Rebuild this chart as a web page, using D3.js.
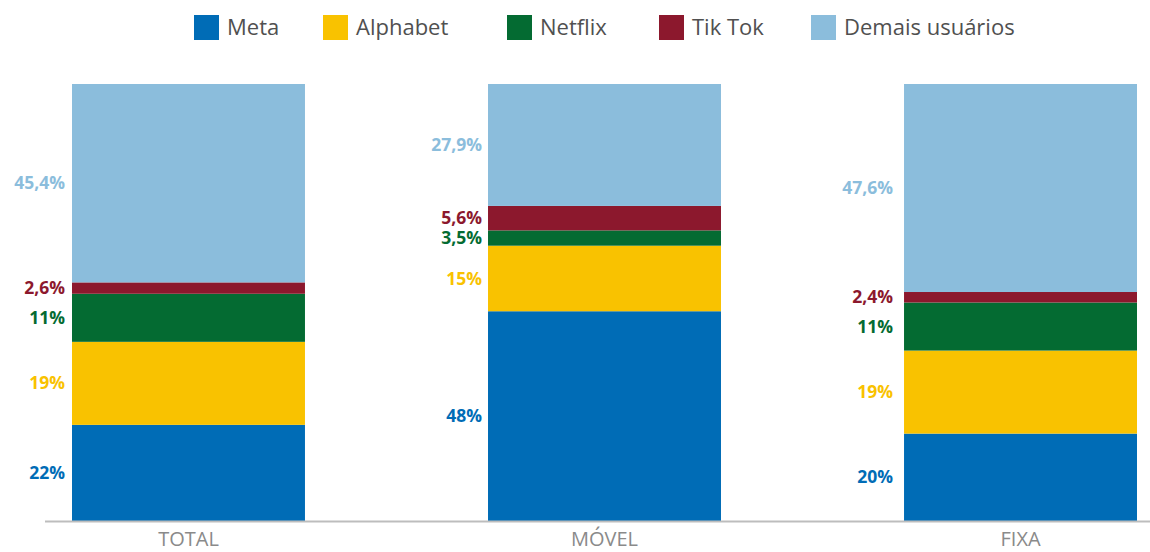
<!DOCTYPE html>
<html><head><meta charset="utf-8">
<script src="https://cdn.jsdelivr.net/npm/d3@7"></script>
<style>body{margin:0;background:#fff}svg{display:block;font-family:"Open Sans",sans-serif}</style>
</head><body>
<svg id="c" width="1150" height="552"></svg>
<script>
const categories = ["TOTAL", "MÓVEL", "FIXA"];
const seriesNames = ["Meta", "Alphabet", "Netflix", "Tik Tok", "Demais usuários"];
const meta = [22, 48, 20];
const alphabet = [19, 15, 19];
const netflix = [11, 3.5, 11];
const tiktok = [2.6, 5.6, 2.4];
const demais = [45.4, 27.9, 47.6];
const colors = ["#006cb6", "#f9c200", "#046b32", "#8c182d", "#8bbddc"];

const seriesValues = [meta, alphabet, netflix, tiktok, demais];
const rows = categories.map((c, i) => {
  const r = {cat: c};
  seriesNames.forEach((s, j) => r[s] = seriesValues[j][i]);
  return r;
});
const stack = d3.stack().keys(seriesNames)(rows);

const svg = d3.select("#c");
const x = d3.scaleBand().domain(categories).range([72, 1137]).paddingInner(0.44).paddingOuter(0);
const y = d3.scaleLinear().domain([0, 100]).range([521, 84]);

const fmt = v => String(v).replace(".", ",") + "%";
const labelOffset = [7, 6, 11];

stack.forEach((layer, j) => {
  const g = svg.append("g");
  g.selectAll("rect").data(layer).join("rect")
    .attr("x", d => x(d.data.cat))
    .attr("width", x.bandwidth())
    .attr("y", d => y(d[1]))
    .attr("height", d => y(d[0]) - y(d[1]))
    .attr("fill", colors[j]);
  g.selectAll("text").data(layer).join("text")
    .attr("x", (d, i) => x(d.data.cat) - labelOffset[i])
    .attr("y", d => (y(d[0]) + y(d[1])) / 2)
    .attr("dy", "0.35em")
    .attr("text-anchor", "end")
    .attr("font-size", 17.5)
    .attr("font-weight", 700)
    .attr("fill", colors[j])
    .text(d => fmt(+(d[1] - d[0]).toFixed(1)));
});

// baseline axis
svg.append("line").attr("x1", 45).attr("x2", 1150).attr("y1", 521.5).attr("y2", 521.5)
  .attr("stroke", "#bdbdbd").attr("stroke-width", 2);

const xAxis = d3.axisBottom(x).tickSize(0).tickPadding(0);
const ax = svg.append("g").attr("transform", "translate(0,521)").call(xAxis);
ax.select(".domain").remove();
ax.selectAll("text").attr("font-size", 20).attr("fill", "#8a8a8a")
  .attr("font-family", "Open Sans, sans-serif").attr("y", 17.5).attr("dy", "0.35em");

// legend
const legendX = [194, 323, 507, 659, 811];
const lg = svg.append("g").selectAll("g").data(seriesNames).join("g")
  .attr("transform", (d, i) => `translate(${legendX[i]},15)`);
lg.append("rect").attr("width", 25).attr("height", 25).attr("fill", (d, i) => colors[i]);
lg.append("text").attr("x", 33).attr("y", 12.5).attr("dy", "0.36em")
  .attr("font-size", 22).attr("fill", "#505050").text(d => d);
</script>
</body></html>
